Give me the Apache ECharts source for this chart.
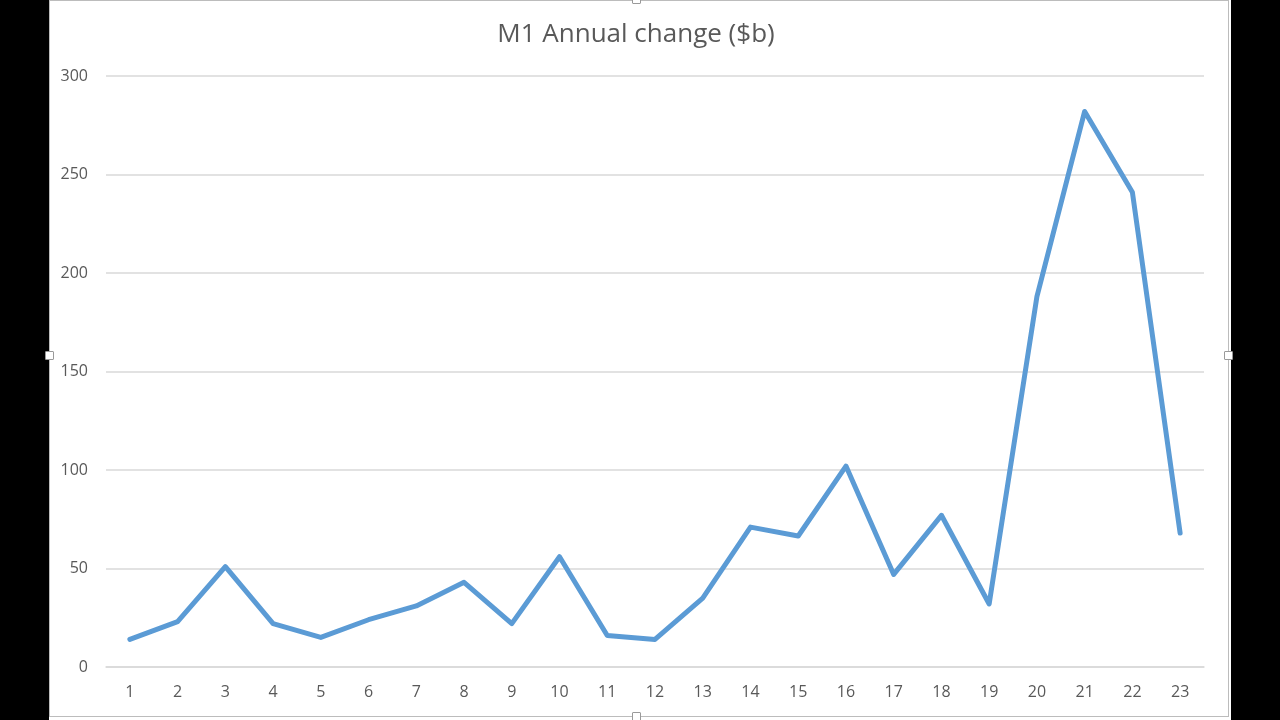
<!DOCTYPE html>
<html>
<head>
<meta charset="utf-8">
<script src="https://cdn.jsdelivr.net/npm/echarts@6/dist/echarts.min.js"></script>
<style>
  html, body { margin: 0; padding: 0; background: #000; width: 1280px; height: 720px; overflow: hidden; }
  #paper { position: absolute; left: 49px; top: 0; width: 1182px; height: 720px; background: #fff; }
  #frame { position: absolute; left: 49px; top: 0; width: 1178px; height: 715px; border: 1px solid #bcbcbc; box-sizing: content-box; }
  .h { position: absolute; width: 7px; height: 7px; background: #fff; border: 1px solid #9a9a9a; border-radius: 1px; }
  #chart { position: absolute; left: 0; top: 0; width: 1280px; height: 720px; }
</style>
</head>
<body>
<div id="paper"></div>
<div id="frame"></div>
<div id="chart"></div>
<div class="h" style="left:632px;top:-5px"></div>
<div class="h" style="left:45px;top:351px"></div>
<div class="h" style="left:1224px;top:351px"></div>
<div class="h" style="left:632px;top:712px"></div>
<script>
const titleText = "M1 Annual change ($b)";
const categories = ["1","2","3","4","5","6","7","8","9","10","11","12","13","14","15","16","17","18","19","20","21","22","23"];
const values = [14, 23, 51, 22, 15, 24, 31, 43, 22, 56, 16, 14, 35, 71, 66.5, 102, 47, 77, 32, 188, 282, 241, 68];
const yTicks = { min: 0, max: 300, interval: 50 };

const chart = echarts.init(document.getElementById('chart'), null, { renderer: 'canvas' });
chart.setOption({
  backgroundColor: 'transparent',
  animation: false,
  title: {
    text: titleText,
    left: 631, top: 17, textAlign: 'center',
    textStyle: { fontFamily: 'Open Sans', fontSize: 26, fontWeight: 'normal', color: '#595959' }
  },
  grid: { left: 106, right: 76, top: 76, bottom: 53, containLabel: false },
  xAxis: {
    type: 'category',
    data: categories,
    boundaryGap: true,
    axisLine: { show: true, lineStyle: { color: '#d9d9d9', width: 1.5 } },
    axisTick: { show: false },
    axisLabel: { margin: 17, fontFamily: 'Open Sans', fontSize: 16, color: '#595959' }
  },
  yAxis: {
    type: 'value',
    min: yTicks.min, max: yTicks.max, interval: yTicks.interval,
    axisLine: { show: false },
    axisTick: { show: false },
    splitLine: { lineStyle: { color: '#d9d9d9', width: 1.5 } },
    axisLabel: { margin: 18, fontFamily: 'Open Sans', fontSize: 16, color: '#595959' }
  },
  series: [{
    type: 'line',
    data: values,
    symbol: 'none',
    lineStyle: { color: '#5b9bd5', width: 5, cap: 'round', join: 'round' }
  }]
});
</script>
</body>
</html>
